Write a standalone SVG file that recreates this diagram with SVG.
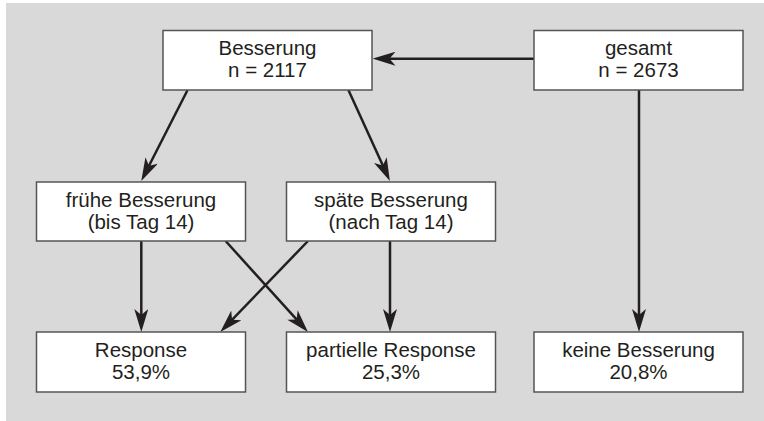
<svg xmlns="http://www.w3.org/2000/svg" width="764" height="421" viewBox="0 0 764 421">
<defs>
<style>
.box{fill:#ffffff;stroke:#555555;stroke-width:1.5}
.t{font-family:"Liberation Sans",Arial,sans-serif;font-size:20.5px;fill:#231f20;text-anchor:middle}
.c{stroke:#231f20;stroke-width:2.5;fill:none;marker-end:url(#ah)}
</style>
<marker id="ah" markerUnits="userSpaceOnUse" viewBox="0 0 23 14" markerWidth="23" markerHeight="14" refX="11" refY="7" orient="auto">
<path d="M0,0 L23,7 L0,14 L6,7 Z" fill="#231f20"/>
</marker>
</defs>
<rect x="6" y="3" width="758" height="418" fill="#d9d9d9"/>
<g id="connectors">
<line class="c" x1="534" y1="58.7" x2="384.5" y2="58.7"/>
<line class="c" x1="187.6" y1="90" x2="146.7" y2="170.3"/>
<line class="c" x1="348.4" y1="90" x2="384.9" y2="170.1"/>
<line class="c" x1="639" y1="90" x2="639" y2="320"/>
<line class="c" x1="141.3" y1="241" x2="141.3" y2="320"/>
<line class="c" x1="390" y1="241" x2="390" y2="320"/>
<line class="c" x1="225.6" y1="241" x2="299.9" y2="323.1"/>
<line class="c" x1="308" y1="241" x2="228.6" y2="323.4"/>
</g>
<g id="besserung">
<rect class="box" x="163" y="30.5" width="209" height="59.5"/>
<text class="t" x="267.5" y="55">Besserung</text>
<text class="t" x="267.5" y="77">n = 2117</text>
</g>
<g id="gesamt">
<rect class="box" x="534" y="30.5" width="209" height="59.5"/>
<text class="t" x="638.5" y="55">gesamt</text>
<text class="t" x="638.5" y="77">n = 2673</text>
</g>
<g id="fruehe">
<rect class="box" x="36.5" y="182" width="209" height="59"/>
<text class="t" x="141" y="206.5">frühe Besserung</text>
<text class="t" x="141" y="228.5">(bis Tag 14)</text>
</g>
<g id="spaete">
<rect class="box" x="286.5" y="182" width="209" height="59"/>
<text class="t" x="391" y="206.5">späte Besserung</text>
<text class="t" x="391" y="228.5">(nach Tag 14)</text>
</g>
<g id="response">
<rect class="box" x="36.5" y="332" width="209" height="60"/>
<text class="t" x="141" y="356.5">Response</text>
<text class="t" x="141" y="378.5">53,9%</text>
</g>
<g id="partielle">
<rect class="box" x="286.5" y="332" width="209" height="60"/>
<text class="t" x="391" y="356.5">partielle Response</text>
<text class="t" x="391" y="378.5">25,3%</text>
</g>
<g id="keine">
<rect class="box" x="534" y="332" width="209" height="60"/>
<text class="t" x="638.5" y="356.5">keine Besserung</text>
<text class="t" x="638.5" y="378.5">20,8%</text>
</g>
</svg>
